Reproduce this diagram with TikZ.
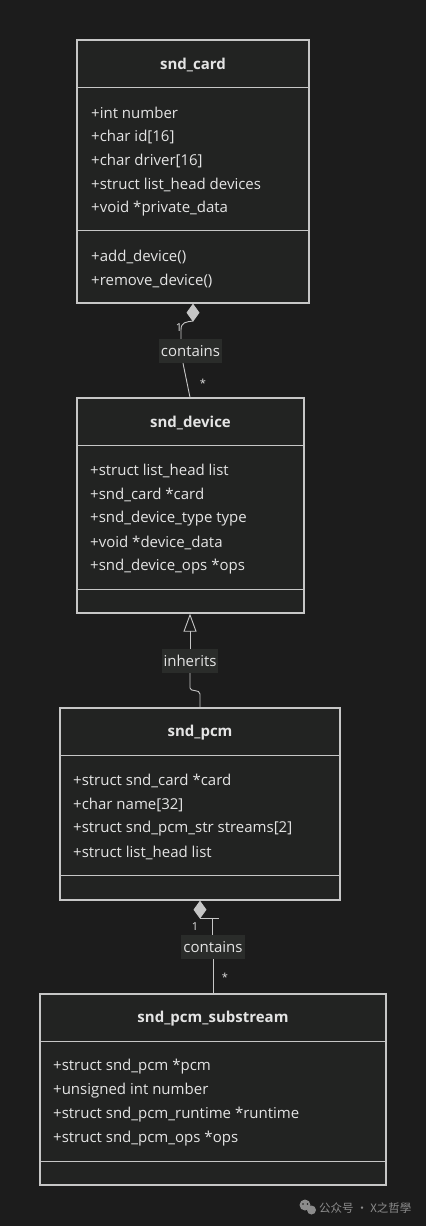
\documentclass[tikz,border=0pt]{standalone}
\usepackage{fontspec}
\setmainfont{Open Sans}
\newfontfamily\cjk{Noto Sans CJK SC}
\usetikzlibrary{arrows.meta,calc}
\definecolor{bgc}{HTML}{1C1C1C}
\definecolor{boxfill}{HTML}{222322}
\definecolor{boxline}{HTML}{C6C6C6}
\definecolor{txt}{HTML}{E4E4E4}
\definecolor{labfill}{HTML}{2A2C2A}
\definecolor{wm}{HTML}{8C8C8C}
\tikzset{
  classbox/.style={draw=boxline, fill=boxfill, line width=1.3pt, inner sep=0pt},
  divider/.style={draw=boxline, line width=1.3pt},
  ctitle/.style={text=txt, font=\fontsize{15}{17}\selectfont\bfseries, inner sep=0pt},
  attr/.style={text=txt, font=\fontsize{15}{17}\selectfont, anchor=west, inner sep=0pt},
  rel/.style={draw=boxline, line width=0.9pt},
  rlabel/.style={fill=labfill, text=txt, font=\fontsize{15}{17}\selectfont, inner xsep=2pt, inner ysep=3pt, minimum height=24pt},
  mult/.style={text=txt, font=\fontsize{11}{13}\selectfont, inner sep=0pt},
  diam/.tip={Diamond[length=18pt,width=13pt,fill=boxline]},
  tri/.tip={Triangle[open,length=18pt,width=13pt,fill=bgc]}
}
\begin{document}
\begin{tikzpicture}[x=1pt,y=-1pt]
\fill[bgc] (0,0) rectangle (426,1226);
\useasboundingbox (0,0) rectangle (426,1226);

% snd_card
\node[classbox, minimum width=232pt, minimum height=263pt] (card) at (193,171.5) {};
\draw[divider] ($(card.north west)+(0,48)$) -- ($(card.north east)+(0,48)$);
\draw[divider] ($(card.north west)+(0,191)$) -- ($(card.north east)+(0,191)$);
\node[ctitle] (cardt) at (193,64.5) {snd\_card};
\node[attr] (ca1) at (91,112.5) {+int number};
\node[attr] (ca2) at (91,136.5) {+char id[16]};
\node[attr] (ca3) at (91,160.5) {+char driver[16]};
\node[attr] (ca4) at (91,184.5) {+struct list\_head devices};
\node[attr] (ca5) at (91,208.5) {+void *private\_data};
\node[attr] (cm1) at (91,256.5) {+add\_device()};
\node[attr] (cm2) at (91,280.5) {+remove\_device()};

% snd_device
\node[classbox, minimum width=227pt, minimum height=215pt] (dev) at (190.5,505.5) {};
\draw[divider] ($(dev.north west)+(0,48)$) -- ($(dev.north east)+(0,48)$);
\draw[divider] ($(dev.north west)+(0,192)$) -- ($(dev.north east)+(0,192)$);
\node[ctitle] (devt) at (190.5,422.5) {snd\_device};
\node[attr] (da1) at (90,470.5) {+struct list\_head list};
\node[attr] (da2) at (90,494.5) {+snd\_card *card};
\node[attr] (da3) at (90,518.5) {+snd\_device\_type type};
\node[attr] (da4) at (90,542.5) {+void *device\_data};
\node[attr] (da5) at (90,566.5) {+snd\_device\_ops *ops};

% snd_pcm
\node[classbox, minimum width=280pt, minimum height=192pt] (pcm) at (200,804) {};
\draw[divider] ($(pcm.north west)+(0,48)$) -- ($(pcm.north east)+(0,48)$);
\draw[divider] ($(pcm.north west)+(0,168)$) -- ($(pcm.north east)+(0,168)$);
\node[ctitle] (pcmt) at (200,732.5) {snd\_pcm};
\node[attr] (pa1) at (73,780.5) {+struct snd\_card *card};
\node[attr] (pa2) at (73,804.5) {+char name[32]};
\node[attr] (pa3) at (73,828.5) {+struct snd\_pcm\_str streams[2]};
\node[attr] (pa4) at (73,852.5) {+struct list\_head list};

% snd_pcm_substream
\node[classbox, minimum width=346pt, minimum height=191pt] (sub) at (213,1089.5) {};
\draw[divider] ($(sub.north west)+(0,48)$) -- ($(sub.north east)+(0,48)$);
\draw[divider] ($(sub.north west)+(0,168)$) -- ($(sub.north east)+(0,168)$);
\node[ctitle] (subt) at (213,1018.5) {snd\_pcm\_substream};
\node[attr] (sa1) at (53,1066.5) {+struct snd\_pcm *pcm};
\node[attr] (sa2) at (53,1090.5) {+unsigned int number};
\node[attr] (sa3) at (53,1114.5) {+struct snd\_pcm\_runtime *runtime};
\node[attr] (sa4) at (53,1138.5) {+struct snd\_pcm\_ops *ops};

% relation 1: card <>-- device
\node[rlabel] (lab1) at (190.5,351) {contains};
\draw[rel, {diam}-] (card.south) -- (193,321) .. controls (186,322) and (181,322) .. (181,330) -- ([xshift=-9.5pt]lab1.north);
\draw[rel] ([xshift=-7.5pt]lab1.south) -- ([xshift=-0.5pt]dev.north);
\node[mult] (m1a) at (179,328) {1};
\node[mult] (m1b) at (203,383) {*};

% relation 2: device <|-- pcm
\node[rlabel] (lab2) at (190,661) {inherits};
\draw[rel, {tri}-] ([xshift=-0.5pt]dev.south) -- (lab2.north);
\draw[rel] (lab2.south) -- (190,688) .. controls (190,692) and (200,689) .. (200,694) -- (pcm.north);

% relation 3: pcm <>-- substream
\node[rlabel] (lab3) at (213,947) {contains};
\draw[rel, {diam}-] (pcm.south) -- (200,918) -- (219,918);
\draw[rel] (212,918) -- ([xshift=-1pt]lab3.north);
\draw[rel] (lab3.south) -- (sub.north);
\node[mult] (m3a) at (195,927) {1};
\node[mult] (m3b) at (225,977) {*};

% watermark
\fill[wm] (305,1205) circle (5.5pt);
\fill[wm] (311.5,1210) circle (4.5pt);
\fill[bgc] (303,1204) circle (0.9pt) (307.5,1204) circle (0.9pt);
\node[text=wm, font=\cjk\fontsize{11.5}{13}\selectfont, anchor=west, inner sep=0pt] (wmt) at (319,1208) {公众号 · X之哲學};
\end{tikzpicture}
\end{document}
